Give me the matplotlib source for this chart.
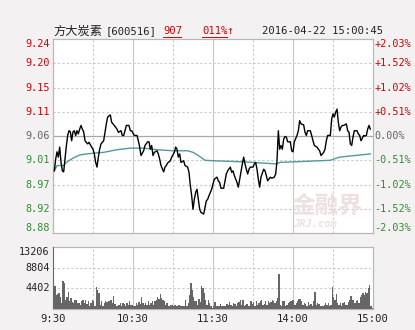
import numpy as np
import matplotlib
matplotlib.use("Agg")
import matplotlib.pyplot as plt
from matplotlib.lines import Line2D

plt.rcParams['font.family'] = ['DejaVu Sans Mono', 'DejaVu Sans']

# ---------------------------------------------------------------- data
prev_close = 9.06
band = 0.1839  # +/- 2.03 %

price_min = [1, 2, 3, 4, 5, 6, 7, 8, 9, 10, 11, 12, 13, 14, 15, 16, 17, 18, 19, 20,
             21, 22, 23, 24, 26, 27, 29, 30, 31, 32, 33, 34, 35, 36, 38, 39, 40, 41, 43, 44,
             46, 48, 49, 51, 52, 53, 54, 55, 57, 58, 59, 61, 63, 64, 65, 66, 68, 69, 71, 72,
             73, 74, 75, 76, 78, 79, 80, 81, 83, 84, 85, 86, 88, 89, 91, 92, 93, 94, 95, 96,
             98, 99, 101, 102, 103, 104, 105, 106, 107, 108, 109, 110, 111, 113, 114, 115, 116, 117, 119, 120,
             121, 123, 124, 125, 126, 128, 129, 130, 131, 133, 134, 135, 136, 138, 139, 140, 141, 142, 143, 144,
             145, 146, 147, 148, 150, 151, 152, 153, 154, 155, 156, 158, 159, 160, 161, 163, 164, 166, 167, 168,
             169, 170, 171, 172, 173, 174, 175, 176, 178, 179, 180, 181, 183, 184, 185, 186, 188, 189, 190, 191,
             193, 194, 195, 196, 198, 199, 200, 201, 203, 204, 205, 206, 208, 209, 210, 211, 212, 213, 214, 215,
             216, 217, 218, 220, 221, 222, 223, 224, 225, 226, 228, 229, 230, 231, 233, 234, 235, 236, 237, 238]
price = [8.994, 9.016, 9.030, 9.020, 9.039, 9.011, 8.994, 8.992, 9.016, 9.041,
         9.061, 9.070, 9.068, 9.051, 9.068, 9.070, 9.061, 9.070, 9.064, 9.073,
         9.080, 9.073, 9.068, 9.051, 9.045, 9.048, 9.039, 9.035, 9.026, 9.010,
         9.001, 9.020, 9.035, 9.045, 9.051, 9.067, 9.083, 9.096, 9.100, 9.086,
         9.080, 9.073, 9.067, 9.070, 9.061, 9.061, 9.070, 9.080, 9.080, 9.070,
         9.070, 9.061, 9.061, 9.051, 9.039, 9.023, 9.032, 9.042, 9.049, 9.049,
         9.035, 9.042, 9.023, 9.029, 9.032, 9.026, 9.016, 9.004, 8.992, 9.001,
         9.004, 9.009, 9.013, 9.020, 9.029, 9.039, 9.035, 9.020, 9.026, 9.010,
         9.013, 9.004, 9.001, 8.991, 8.966, 8.947, 8.921, 8.940, 8.953, 8.959,
         8.940, 8.921, 8.915, 8.912, 8.925, 8.937, 8.940, 8.947, 8.959, 8.969,
         8.978, 8.982, 8.975, 8.972, 8.961, 8.961, 8.975, 8.988, 8.994, 9.001,
         8.991, 8.994, 8.985, 8.972, 8.963, 8.978, 8.994, 9.007, 9.020, 9.007,
         8.997, 8.988, 8.997, 9.001, 9.001, 9.007, 9.010, 8.997, 8.978, 8.963,
         8.982, 8.997, 8.994, 8.985, 8.975, 8.982, 8.980, 8.982, 8.988, 9.013,
         9.070, 9.035, 9.042, 9.035, 9.054, 9.059, 9.058, 9.049, 9.049, 9.032,
         9.030, 9.049, 9.061, 9.070, 9.089, 9.083, 9.081, 9.067, 9.061, 9.070,
         9.070, 9.061, 9.051, 9.042, 9.039, 9.035, 9.032, 9.023, 9.029, 9.035,
         9.051, 9.061, 9.061, 9.092, 9.102, 9.096, 9.105, 9.111, 9.086, 9.070,
         9.077, 9.080, 9.080, 9.083, 9.070, 9.067, 9.045, 9.042, 9.058, 9.070,
         9.070, 9.064, 9.061, 9.051, 9.061, 9.060, 9.061, 9.073, 9.080, 9.073]

avg_min = [1, 3, 8, 10, 15, 20, 25, 33, 38, 48, 58, 68, 78, 90, 101, 105, 109, 114, 121,
           143, 168, 170, 181, 208, 215, 238]
avg_price = [8.994, 9.004, 9.004, 9.010, 9.018, 9.024, 9.026, 9.028, 9.029, 9.034,
             9.037, 9.037, 9.034, 9.032, 9.032, 9.029, 9.023, 9.014, 9.013,
             9.011, 9.007, 9.010, 9.011, 9.014, 9.020, 9.026]

volume = [13206, 4900, 3010, 3220, 3360, 2660, 1260, 5950, 5460, 1960,
          2660, 3570, 1610, 2310, 1400, 1260, 1960, 1960, 1260, 1260,
          910, 1610, 1820, 1260, 1960, 1120, 1610, 700, 1260, 1820,
          1610, 560, 4620, 4060, 3500, 910, 1610, 700, 1260, 1610,
          1400, 1750, 1750, 1960, 1260, 2800, 1120, 700, 700, 910,
          1260, 560, 1260, 1050, 700, 1260, 910, 1610, 910, 770,
          700, 560, 1260, 770, 1400, 1120, 2520, 1260, 910, 1260,
          910, 1610, 910, 1260, 1610, 910, 1610, 1960, 2660, 2100,
          3220, 2310, 1960, 1610, 910, 1260, 700, 560, 910, 910,
          560, 910, 560, 560, 910, 560, 560, 560, 560, 1960,
          700, 1260, 3010, 5600, 4060, 2660, 1610, 1610, 910, 2100,
          1400, 4900, 4410, 3360, 1960, 910, 1960, 1260, 560, 210,
          560,
          1470, 560, 700, 560, 1120, 700, 560, 700, 700, 1120,
          910, 1400, 910, 700, 1260, 1120, 700, 1260, 1400, 1960,
          910, 1960, 700, 910, 1120, 700, 560, 1610, 1120, 1400,
          700, 1610, 910, 1260, 1610, 1960, 910, 1120, 1750, 910,
          1610, 1260, 1400, 1960, 1610, 1260, 1750, 2310, 7420, 910,
          560, 1750, 1750, 700, 910, 1260, 1540, 1610, 1820, 1960,
          910, 1260, 1610, 2100, 2100, 1610, 910, 1260, 1120, 700,
          1400, 910, 1120, 700, 1610, 3710, 910, 1260, 1050, 700,
          560, 700, 910, 1260, 910, 1260, 700, 910, 4620, 2520,
          1960, 3220, 1260, 910, 1260, 560, 1260, 1400, 910, 910,
          1400, 1960, 2800, 1960, 1820, 1260, 1610, 1820, 1260, 2450,
          3010, 3360, 3010, 3710, 3360, 4410, 5110, 560, 210]
vol_max = 13206

left_labels = ["9.24", "9.20", "9.15", "9.11", "9.06", "9.01", "8.97", "8.92", "8.88"]
right_labels = ["+2.03%", "+1.52%", "+1.02%", "+0.51%", "0.00%",
                "-0.51%", "-1.02%", "-1.52%", "-2.03%"]
vol_labels = ["13206", "8804", "4402"]
time_labels = ["9:30", "10:30", "11:30", "14:00", "15:00"]

RED, GREEN, GREY = "#d40000", "#2f8f2f", "#666666"
BG = "#f3f1f1"
GRID = "#c8c8c8"

fig = plt.figure(figsize=(4.15, 3.30), dpi=100, facecolor=BG)
W, H = 415.0, 330.0
ax = fig.add_axes([53 / W, 1 - 233 / H, 320 / W, 194 / H])
axv = fig.add_axes([53 / W, 1 - 309 / H, 320 / W, 62 / H])

lo, hi = prev_close - band, prev_close + band
levels = np.linspace(hi, lo, 9)

for a in (ax, axv):
    a.set_facecolor("white")
    a.set_xlim(0, 240)
    a.set_xticks([])
    a.set_yticks([])
    for s in a.spines.values():
        s.set_color("#b8b8b8")
        s.set_linewidth(0.9)
    for k in range(1, 8):
        a.axvline(k * 30, color=GRID, lw=0.8,
                  ls="-" if k % 2 == 0 else (0, (2, 2)), zorder=0)

ax.set_ylim(lo, hi)
for i, lv in enumerate(levels[1:-1], start=1):
    if i == 4:
        ax.axhline(lv, color="#a8a8a8", lw=0.9, zorder=0)
    else:
        ax.axhline(lv, color=GRID, lw=0.8, ls=(0, (2, 2)), zorder=0)

# watermark
ax.text(0.855, 0.14, "金融界", transform=ax.transAxes, ha="center", va="center",
        fontsize=17, color="#eee0e0", family=["Noto Sans CJK SC", "DejaVu Sans"],
        fontweight="bold", zorder=1)
ax.text(0.82, 0.045, "JRJ.com", transform=ax.transAxes, ha="center", va="center",
        fontsize=7.5, color="#eee0e0", style="italic", fontweight="bold", zorder=1)

ax.plot(avg_min, avg_price, color="#4f9a9c", lw=1.0, zorder=3)
ax.plot(price_min, price, color="black", lw=1.0, zorder=4)

ytr = ax.get_yaxis_transform()
for i, (lv, ll, rl) in enumerate(zip(levels, left_labels, right_labels)):
    col = RED if i < 4 else (GREY if i == 4 else GREEN)
    va = "top" if i == 0 else ("bottom" if i == 8 else "center")
    ax.text(-0.01, lv, ll, transform=ytr, ha="right", va=va, fontsize=7.3, color=col)
    ax.text(1.005, lv, rl, transform=ytr, ha="left", va=va, fontsize=7.3, color=col)

# volume panel
vx = np.linspace(0.5, 239.5, len(volume))
axv.bar(vx, volume, width=0.85, color="#666666", zorder=3)
axv.set_ylim(0, vol_max)
for lv in (vol_max * 2 / 3, vol_max / 3):
    axv.axhline(lv, color=GRID, lw=0.8, ls=(0, (2, 2)), zorder=0)
vtr = axv.get_yaxis_transform()
for i, lab in enumerate(vol_labels):
    axv.text(-0.01, vol_max * (3 - i) / 3, lab, transform=vtr, ha="right",
             va="top" if i == 0 else "center", fontsize=7.3, color="#222222")
xtr = axv.get_xaxis_transform()
for k, lab in zip([0, 60, 120, 180, 240], time_labels):
    axv.text(k, -0.08, lab, transform=xtr, ha="center", va="top",
             fontsize=7.6, color="#222222")

# header
cjk = ["Noto Sans CJK SC", "DejaVu Sans"]
fig.text(53 / W, 1 - 31 / H, "方大炭素", ha="left", va="center",
         fontsize=8.8, color="#222222", family=cjk)
fig.text(106 / W, 1 - 31 / H, "[600516]", ha="left", va="center",
         fontsize=7.6, color="#222222")
fig.text(163 / W, 1 - 31 / H, "907", ha="left", va="center", fontsize=7.6, color=RED)
fig.text(202 / W, 1 - 31 / H, "011%↑", ha="left", va="center", fontsize=7.6,
         color=RED, family=["DejaVu Sans Mono", "DejaVu Sans"])
fig.text(262 / W, 1 - 31 / H, "2016-04-22 15:00:45", ha="left", va="center",
         fontsize=7.6, color="#222222")
for x0, x1 in [(163, 181), (202, 227)]:
    fig.add_artist(Line2D([x0 / W, x1 / W], [1 - 37 / H, 1 - 37 / H],
                          color=RED, lw=0.7, transform=fig.transFigure))

fig.savefig("out.png", dpi=100, facecolor=BG)
